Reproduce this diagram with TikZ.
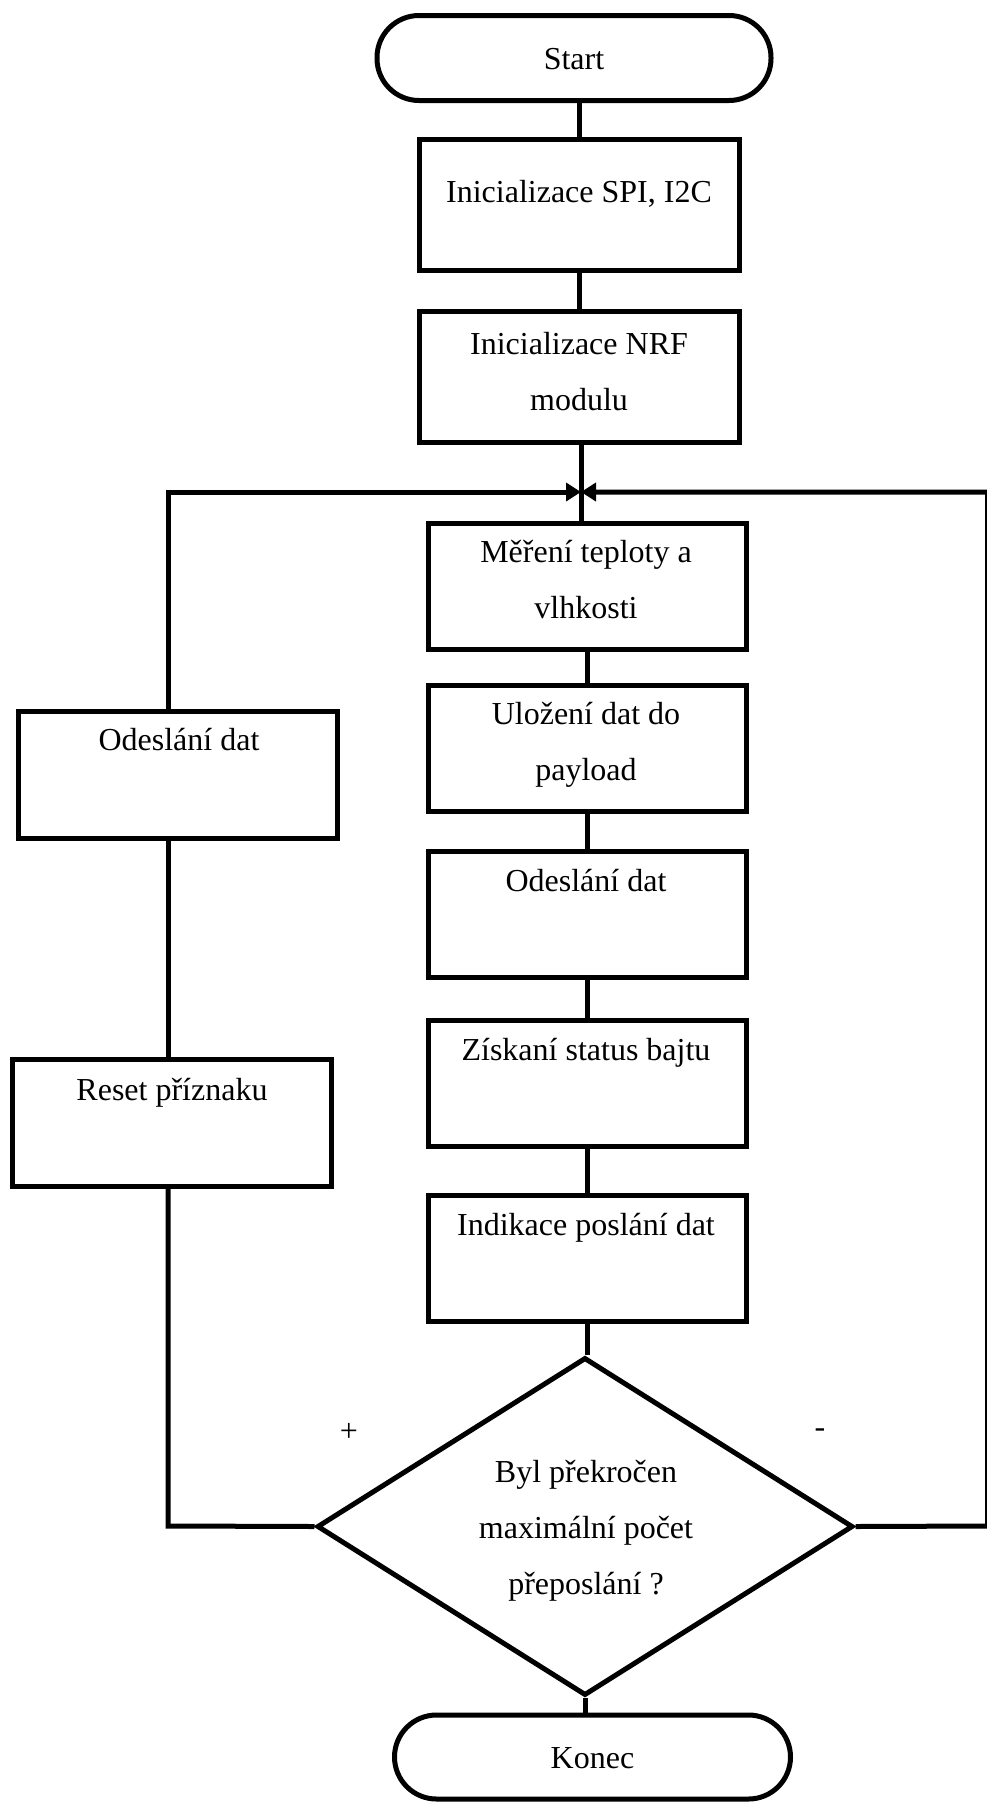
\documentclass[tikz,border=0pt]{standalone}
\usepackage{fontspec}
\setmainfont{Liberation Serif}
\usetikzlibrary{arrows.meta,shapes.geometric}

\tikzset{
  flow/.style={line width=5pt, line join=miter},
  txt/.style={font=\fontsize{32}{56}\selectfont, align=center, inner sep=0pt},
  oneline/.style={txt, text height=22pt, text depth=7pt},
  stepbox/.style={draw, rectangle, inner sep=0pt, minimum width=318pt, minimum height=126pt},
  terminal/.style={draw, rectangle, rounded corners=42pt, inner sep=0pt, txt, text height=22pt, text depth=0pt},
  decision/.style={draw, diamond, inner sep=0pt, minimum width=536pt, minimum height=338pt},
  sign/.style={font=\fontsize{32}{40}\selectfont, inner sep=0pt},
  into/.style={-{Triangle[length=15pt,width=18pt]}},
}

\begin{document}
\begin{tikzpicture}[x=1pt, y=-1pt, flow]
  \useasboundingbox (0,0) rectangle (986,1802);

  % main column
  \node[terminal, minimum width=394pt, minimum height=85pt] (st) at (574,58) {Start};
  \node[stepbox, minimum width=320pt, minimum height=131pt] (b1) at (579.5,205) {};
  \node[oneline] (b1t) at (579,195) {Inicializace SPI, I2C};
  \node[stepbox, minimum width=320pt, minimum height=131pt] (b2) at (579.5,377) {};
  \node[txt] (b2t) at (579,372) {Inicializace NRF\\modulu};

  \coordinate (m) at (581,492);

  \node[stepbox] (b3) at (587.5,586.5) {};
  \node[txt] (b3t) at (586,580) {Měření teploty a\\vlhkosti};
  \node[stepbox] (b4) at (587.5,748.5) {};
  \node[txt] (b4t) at (586,745) {Uložení dat do\\payload};
  \node[stepbox] (b5) at (587.5,914.5) {};
  \node[oneline] (b5t) at (586,884) {Odeslání dat};
  \node[stepbox] (b6) at (587.5,1083.5) {};
  \node[oneline] (b6t) at (586,1053) {Získaní status bajtu};
  \node[stepbox] (b7) at (587.5,1258) {};
  \node[oneline] (b7t) at (586,1228) {Indikace poslání dat};

  \node[decision] (dec) at (585,1526.5) {};
  \node[txt] (dect) at (586,1531) {Byl překročen\\maximální počet\\přeposlání ?};

  \node[terminal, minimum width=396pt, minimum height=84pt] (ko) at (592.5,1757) {Konec};

  % side column
  \node[stepbox, minimum width=319pt, minimum height=127pt] (l1) at (178,775) {};
  \node[oneline] (l1t) at (179,743) {Odeslání dat};
  \node[stepbox, minimum width=319pt, minimum height=127pt] (l2) at (172,1123) {};
  \node[oneline] (l2t) at (172,1093) {Reset příznaku};

  % branch labels
  \node[sign] (plus) at (349,1432) {+};
  \node[sign] (minus) at (820,1433) {-};

  % connectors of the main column
  \draw (b1.north) -- (b1.north |- st.south);
  \draw (b1.south) -- (b2.north);
  \draw (m |- b2.south) -- (m |- b3.north);
  \draw (b3.south) -- (b4.north);
  \draw (b4.south) -- (b5.north);
  \draw (b5.south) -- (b6.north);
  \draw (b6.south) -- (b7.north);
  \draw (b7.south) -- (b7.south |- dec.north);
  \draw (dec.south) -- (dec.south |- ko.north);

  % "+" branch: back through the side column
  \coordinate (lc) at (168,1526);
  \draw (dec.west) -- (lc) -- (lc |- l2.south);
  \draw (lc |- l2.north) -- (lc |- l1.south);
  \draw[into] (lc |- l1.north) -- (lc |- m) -- (m);

  % "-" branch: back along the right edge
  \coordinate (rc) at (987.5,1526);
  \draw[into] (dec.east) -- (rc) -- (rc |- m) -- (m);
\end{tikzpicture}
\end{document}
